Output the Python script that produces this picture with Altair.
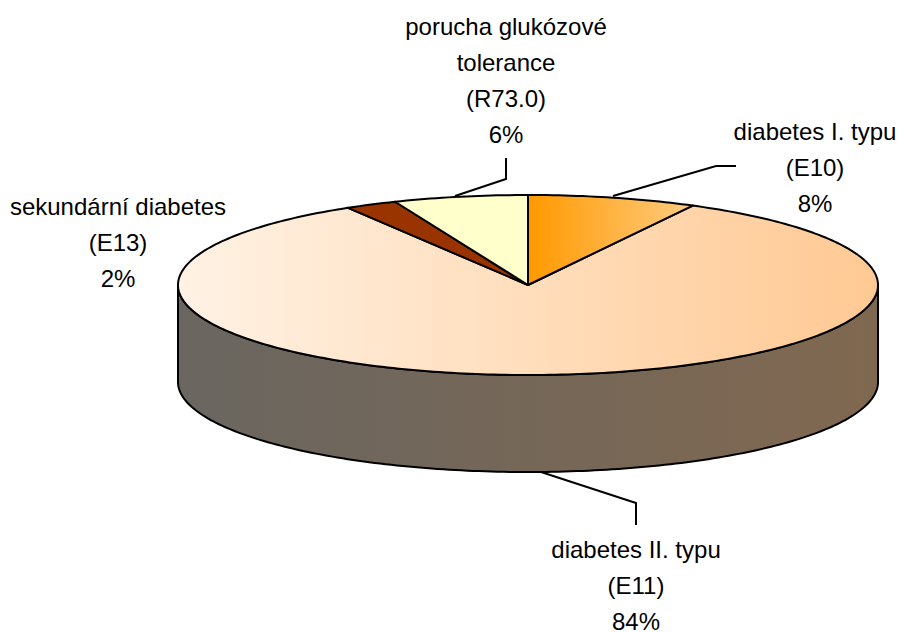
import math
import altair as alt
import pandas as pd

categories = ["diabetes I. typu", "diabetes II. typu", "sekundární diabetes", "porucha glukózové tolerance"]
shares = [7.8, 83.6, 2.4, 6.2]
fills = [("#ff9900", "#ffcc80"), ("#fff2e5", "#ffc993"), ("#993300", "#993300"), ("#ffffcc", "#ffffcc")]
side_fill = ("#6a6660", "#806850")

label_lines = [
    ["porucha glukózové", "tolerance", "(R73.0)", "6%"],
    ["diabetes I. typu", "(E10)", "8%"],
    ["sekundární diabetes", "(E13)", "2%"],
    ["diabetes II. typu", "(E11)", "84%"],
]
label_x = [506, 815, 118, 636]
label_y = [35, 140, 215, 558]
line_step = 36

leaders = [
    [(613, 196), (716, 166), (736, 166)],
    [(455, 196), (506, 179), (506, 158)],
    [(541, 472), (636, 503), (636, 525)],
]

CX, CY, RX, RY, DEPTH = 528, 285, 350, 90, 97

X = alt.X("x:Q", axis=None, scale=alt.Scale(domain=[8, 896], nice=False, zero=False))
Y = alt.Y("y:Q", axis=None, scale=alt.Scale(domain=[632, 8], nice=False, zero=False))


def ell(deg, dy=0):
    a = math.radians(deg)
    return CX + RX * math.sin(a), CY - RY * math.cos(a) + dy


def grad(c):
    return alt.LinearGradient(
        gradient="linear", x1=0, x2=1, y1=0, y2=0,
        stops=[alt.GradientStop(color=c[0], offset=0), alt.GradientStop(color=c[1], offset=1)],
    )


def shape(pts, fill):
    df = pd.DataFrame([{"x": p[0], "y": p[1], "i": i} for i, p in enumerate(pts)])
    return alt.Chart(df).mark_line(
        fill=grad(fill), stroke="black", strokeWidth=2, strokeJoin="round"
    ).encode(x=X, y=Y, order="i:Q")


layers = []
# side wall
side = [ell(d) for d in range(90, 271)] + [ell(d, DEPTH) for d in range(270, 89, -1)]
side.append(side[0])
layers.append(shape(side, side_fill))

# top slices
start = 0.0
slices = []
for s, f in zip(shares, fills):
    a0 = start / 100 * 360
    a1 = (start + s) / 100 * 360
    n = max(2, int(a1 - a0))
    pts = [(CX, CY)] + [ell(a0 + (a1 - a0) * k / n) for k in range(n + 1)] + [(CX, CY)]
    slices.append(shape(pts, f))
    start += s
layers = layers + [slices[1], slices[0], slices[2], slices[3]]

# leader lines
for ld in leaders:
    df = pd.DataFrame([{"x": p[0], "y": p[1], "i": i} for i, p in enumerate(ld)])
    layers.append(alt.Chart(df).mark_line(color="black", strokeWidth=2).encode(x=X, y=Y, order="i:Q"))

# labels
rows = []
for lines, lx, ly in zip(label_lines, label_x, label_y):
    for k, t in enumerate(lines):
        rows.append({"x": lx, "y": ly + k * line_step, "t": t})
layers.append(
    alt.Chart(pd.DataFrame(rows)).mark_text(
        font="Liberation Sans", fontSize=24, color="black", align="center", baseline="alphabetic"
    ).encode(x=X, y=Y, text="t:N")
)

chart = alt.layer(*layers).properties(
    width=888, height=624, padding=0, autosize=alt.AutoSizeParams(type="none")
).configure_view(stroke=None)

chart.save("out.html", embed_options={"renderer": "svg", "actions": False})
